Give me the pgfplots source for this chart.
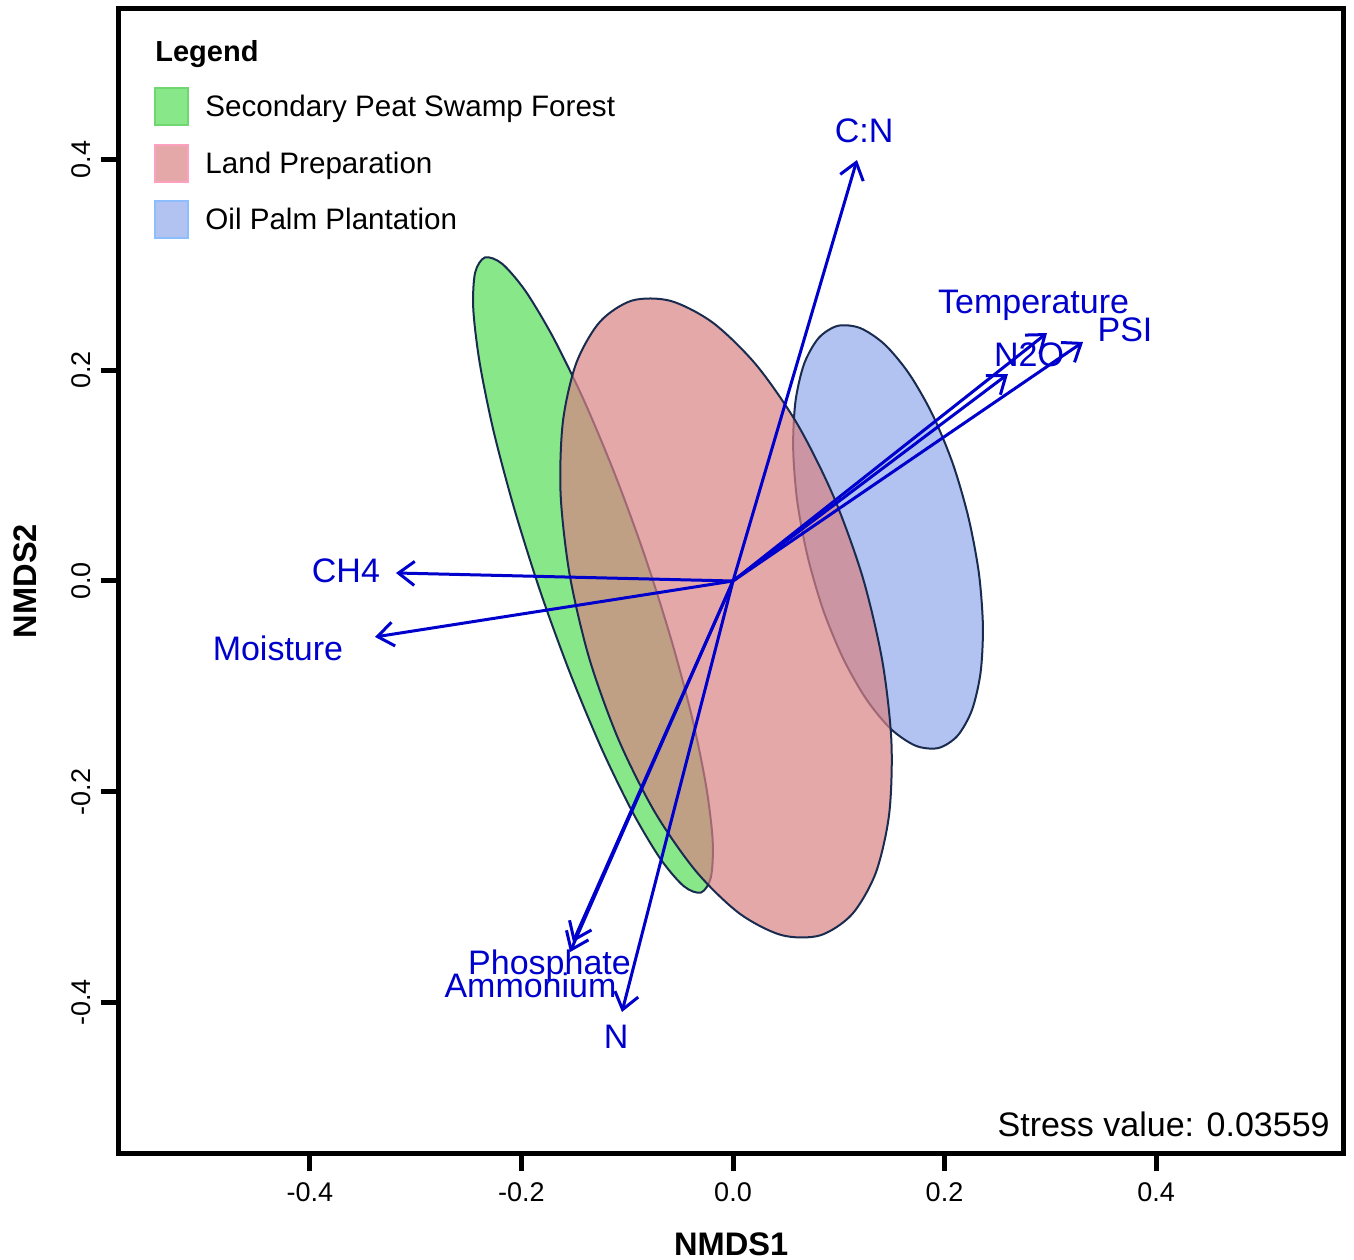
\documentclass[border=0pt]{standalone}
\usepackage{fontspec}
\setmainfont{Liberation Sans}
\usepackage{pgfplots}
\pgfplotsset{compat=1.18}
\usetikzlibrary{arrows.meta}

\definecolor{sgreen}{RGB}{85,221,85}
\definecolor{spink}{RGB}{216,131,132}
\definecolor{sblue}{RGB}{145,169,236}
\definecolor{edgec}{RGB}{26,43,80}
\definecolor{arr}{RGB}{0,0,205}
\definecolor{lgreen}{RGB}{136,231,136}
\definecolor{lgreenB}{RGB}{112,214,112}
\definecolor{lpink}{RGB}{228,168,169}
\definecolor{lpinkB}{RGB}{255,160,190}
\definecolor{lblue}{RGB}{178,195,242}
\definecolor{lblueB}{RGB}{140,190,255}

\begin{document}
\begin{tikzpicture}
\useasboundingbox (-59.5pt,-53pt) rectangle (617.5pt,576.5pt);
\begin{axis}[
  at={(0,0)}, anchor=south west,
  scale only axis, width=612.25pt, height=572pt,
  xmin=-0.5806, xmax=0.5773, ymin=-0.5428, ymax=0.5428,
  axis line style={line width=2.5pt, black},
  xtick={-0.4,-0.2,0,0.2,0.4}, ytick={-0.4,-0.2,0,0.2,0.4},
  xtick pos=bottom, ytick pos=left,
  tick align=outside, major tick length=9pt,
  tick style={line width=2.5pt, black},
  /pgf/number format/fixed, /pgf/number format/fixed zerofill,
  /pgf/number format/precision=1, /pgf/number format/assume math mode=true,
  tick label style={font=\fontsize{13.5}{16}\selectfont},
  xticklabel style={yshift=-2.5pt},
  yticklabel style={rotate=90, anchor=south, yshift=1.5pt},
  xlabel={NMDS1}, ylabel={NMDS2},
  every axis x label/.style={at={(rel axis cs:0.5,0)}, anchor=base, yshift=-51pt, font=\fontsize{16.3}{19}\selectfont\bfseries},
  every axis y label/.style={at={([xshift=-47pt]rel axis cs:0,0.5)}, rotate=90, anchor=center, font=\fontsize{16.3}{19}\selectfont\bfseries},
  legend style={at={(0.0286,0.9318)}, anchor=north west, draw=none, fill=none, inner sep=0pt, row sep=8.75pt, font=\fontsize{14.8}{17}\selectfont, nodes={inner sep=0pt}, /tikz/every odd column/.append style={column sep=8pt}},
  legend cell align=left,
]
\addlegendimage{legend image code/.code={\draw[line width=1pt, fill=lgreen, draw=lgreenB] (0pt,-9pt) rectangle (16.5pt,9.5pt);}}
\addlegendentry{Secondary Peat Swamp Forest}
\addlegendimage{legend image code/.code={\draw[line width=1pt, fill=lpink, draw=lpinkB] (0pt,-9pt) rectangle (16.5pt,9.5pt);}}
\addlegendentry{Land Preparation}
\addlegendimage{legend image code/.code={\draw[line width=1pt, fill=lblue, draw=lblueB] (0pt,-9pt) rectangle (16.5pt,9.5pt);}}
\addlegendentry{Oil Palm Plantation}

% Secondary Peat Swamp Forest ellipse
\addplot[forget plot, fill=sgreen, fill opacity=0.7, draw=edgec, line width=1pt, smooth cycle] coordinates {
(-0.2346,0.3070) (-0.2439,0.2924) (-0.2456,0.2582) (-0.2395,0.2068) (-0.2263,0.1418) (-0.2065,0.0674)
(-0.1818,-0.0112) (-0.1536,-0.0886) (-0.1240,-0.1596) (-0.0950,-0.2193) (-0.0686,-0.2637) (-0.0464,-0.2897)
(-0.0302,-0.2956) (-0.0209,-0.2810) (-0.0192,-0.2468) (-0.0253,-0.1954) (-0.0385,-0.1304) (-0.0583,-0.0560)
(-0.0830,0.0226) (-0.1112,0.1000) (-0.1408,0.1710) (-0.1698,0.2307) (-0.1962,0.2751) (-0.2184,0.3011)
};
% Oil Palm Plantation ellipse
\addplot[forget plot, fill=sblue, fill opacity=0.7, draw=edgec, line width=1pt, smooth cycle] coordinates {
(0.0990,0.2421) (0.0810,0.2306) (0.0673,0.2062) (0.0591,0.1706) (0.0569,0.1263) (0.0607,0.0761)
(0.0705,0.0236) (0.0853,-0.0276) (0.1045,-0.0742) (0.1265,-0.1128) (0.1497,-0.1408) (0.1729,-0.1564)
(0.1942,-0.1585) (0.2122,-0.1470) (0.2259,-0.1226) (0.2341,-0.0870) (0.2363,-0.0427) (0.2325,0.0075)
(0.2227,0.0600) (0.2079,0.1112) (0.1887,0.1578) (0.1667,0.1964) (0.1435,0.2244) (0.1203,0.2400)
};
% Land Preparation ellipse
\addplot[forget plot, fill=spink, fill opacity=0.7, draw=edgec, line width=1pt, smooth cycle] coordinates {
(-0.0955,0.2661) (-0.1259,0.2459) (-0.1483,0.2065) (-0.1609,0.1507) (-0.1630,0.0822) (-0.1544,0.0057)
(-0.1359,-0.0735) (-0.1084,-0.1501) (-0.0741,-0.2190) (-0.0352,-0.2752) (0.0057,-0.3152) (0.0458,-0.3360)
(0.0823,-0.3363) (0.1127,-0.3161) (0.1351,-0.2767) (0.1477,-0.2209) (0.1498,-0.1524) (0.1412,-0.0759)
(0.1227,0.0033) (0.0952,0.0799) (0.0609,0.1488) (0.0220,0.2050) (-0.0189,0.2450) (-0.0590,0.2658)
};

% environmental vectors
\pgfplotsset{envarrow/.style={forget plot, color=arr, line width=1.5pt, -{Straight Barb[length=8pt,width=12pt,line width=1.5pt]}}}
\addplot[envarrow] coordinates {(0,0) (0.1172,0.3995)};   % C:N
\addplot[envarrow] coordinates {(0,0) (0.2969,0.2353)};   % Temperature
\addplot[envarrow] coordinates {(0,0) (0.3310,0.2268)};   % PSI
\addplot[envarrow] coordinates {(0,0) (0.2600,0.1964)};   % N2O
\addplot[envarrow] coordinates {(0,0) (-0.3187,0.0076)};  % CH4
\addplot[envarrow] coordinates {(0,0) (-0.3385,-0.0531)}; % Moisture
\addplot[envarrow] coordinates {(0,0) (-0.1513,-0.3426)}; % Phosphate
\addplot[envarrow] coordinates {(0,0) (-0.1541,-0.3521)}; % Ammonium
\addplot[envarrow] coordinates {(0,0) (-0.1050,-0.4090)}; % N

% vector labels
\addplot[forget plot, draw=none, nodes near coords, point meta=explicit symbolic,
  nodes near coords style={anchor=base, inner sep=0pt, font=\fontsize{17}{20}\selectfont, text=arr}]
  table[meta=lab, row sep=\\] {
x y lab\\
0.1239 0.4157 C:N\\
0.2842 0.2534 Temperature\\
0.3707 0.2268 PSI\\
0.2799 0.2040 N2O\\
-0.3660 -0.0019 CH4\\
-0.4303 -0.0750 Moisture\\
-0.1735 -0.3730 Phosphate\\
-0.1915 -0.3948 Ammonium\\
-0.1106 -0.4441 N\\
};

\node[anchor=base west, inner sep=0pt, font=\fontsize{14.5}{17}\selectfont\bfseries] at (rel axis cs:0.0294,0.9545) {Legend};
\node[anchor=base east, inner sep=0pt, font=\fontsize{17}{20}\selectfont] at (rel axis cs:0.9890,0.0140) {Stress value: 0.03559};
\end{axis}
\end{tikzpicture}
\end{document}
